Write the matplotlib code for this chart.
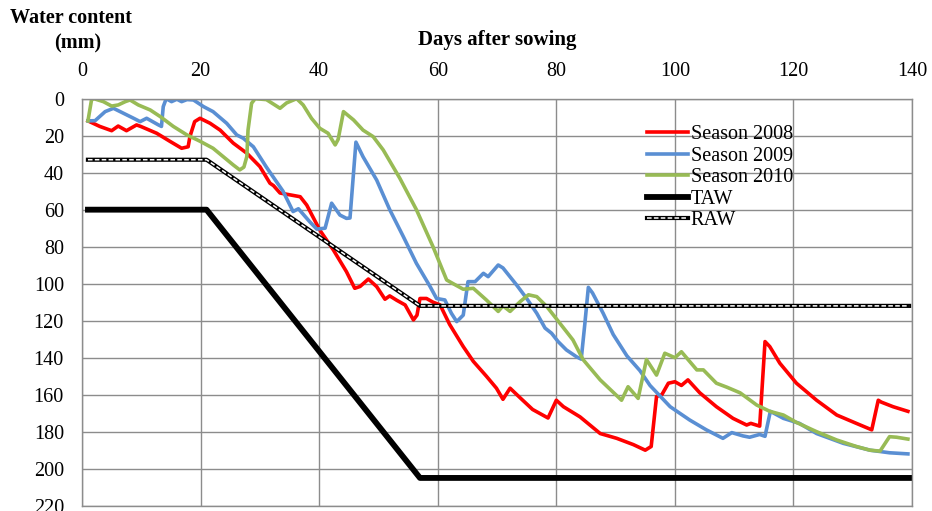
import matplotlib
matplotlib.use("Agg")
import matplotlib.pyplot as plt
from matplotlib.legend_handler import HandlerTuple

plt.rcParams["font.family"] = ["Liberation Serif", "DejaVu Serif"]

# Season 2008
days_2008 = [1, 3, 5, 6.1, 7.5, 9.2, 9.9, 12.6, 14.8, 16.8, 17.9, 18.2, 19, 19.9, 21.6, 23.3,
             25.5, 27.8, 30, 31.7, 32.3, 33.4, 35.1, 36.8, 37.9, 40.1, 42.4, 44.6, 46, 46.9,
             48.3, 49.7, 51.1, 51.9, 53.1, 54.5, 55.9, 56.5, 57, 58.1, 59.2, 60.4, 62, 64.3,
             66, 68.2, 69.9, 71, 72.2, 74, 76, 78.6, 80, 81.2, 84, 87.4, 90.2, 93, 95, 96,
             96.9, 97.8, 98.9, 100, 101.1, 102.2, 104.2, 107, 109.8, 112.1, 112.8, 114.3,
             115.2, 116, 117.7, 120.5, 123.9, 127.3, 130.6, 133.2, 134.3, 134.8, 136.8, 139.3]
wc_2008 = [12, 15, 17.3, 14.8, 17.3, 14.2, 15, 18.7, 23, 26.8, 26, 20.5, 12.4, 10.6, 13.3, 17,
           24, 29.5, 36.7, 45.7, 47, 51, 52, 53, 57.5, 71, 81.8, 93.5, 102.5, 101.5,
           97.5, 101.6, 108.4, 106.6, 109, 111.5, 119.6, 117, 108, 108, 110, 111.5, 122, 134,
           142, 150, 156.5, 162.5, 156.5, 162, 168, 172.6, 163, 166.5, 172, 181, 183.6, 187, 190, 188,
           161, 160, 153.8, 153, 155, 152, 159, 166.5, 172.8, 176.4, 175.5, 177,
           131.3, 134, 143, 153.8, 163, 171, 175.5, 179, 163, 164, 166.5, 169]

# Season 2009
days_2009 = [1, 2.2, 3.9, 5.3, 7, 8.7, 9.8, 10.9, 12.9, 13.4, 13.7, 14.2, 15.1, 16, 16.8, 17.7,
             18.8, 20.5, 22.1, 24.4, 26.1, 27.2, 28.9, 31.1, 33.9, 35.6, 36.5, 38.4, 39.6, 41,
             42.1, 43.5, 44.6, 45.2, 46.2, 47.4, 49.7, 51.9, 54.2, 56.4, 58.7, 59.8, 61.2, 62.3,
             63.2, 64.3, 65.1, 66.3, 67.7, 68.5, 70.2, 71, 73.3, 75, 76.7, 78.1, 79.2, 80.3,
             81.7, 83.4, 84.2, 84.8, 85.4, 86.1, 87.9, 89.6, 91.9, 94.1, 95.8, 99.2, 102.5,
             105.3, 108.1, 109.6, 111.5, 112.6, 114.3, 115.2, 116.1, 118.3, 121, 123.9, 128.4,
             132.9, 136.2, 139.3]
wc_2009 = [12, 11.9, 7, 5.2, 7.9, 10.6, 12.4, 10.6, 14.2, 15, 4.3, 0, 1.6, 0.3, 1.6, 0.5,
           0.7, 4.3, 7, 13.3, 19.6, 21.4, 26, 37, 50, 61, 59.5, 66.5, 70.5, 70,
           56.5, 62.9, 64.7, 64.5, 23.5, 31.4, 44, 60, 74.6, 89, 101.5, 108, 108.8, 116,
           120.5, 117, 98.9, 98.9, 94.4, 96.2, 89.9, 91.5, 100.7, 108, 116, 124, 126.8, 131.3,
           135.8, 139.5, 140.8, 122, 102, 105, 116, 127.5, 139, 147, 155, 166.5, 173.7,
           179, 183.6, 180.5, 182.3, 183, 181.5, 182.5, 169, 172.8, 175.5, 181, 186.3,
           190, 191.4, 192]

# Season 2010
days_2010 = [1, 1.6, 2, 3.6, 5, 6.1, 7.3, 8.1, 9.5, 11.5, 13.2, 15.4, 17.7, 19.9, 22.1, 23.8,
             25.5, 26.6, 27.3, 27.8, 28, 28.6, 29.2, 31.1, 33.4, 34.5, 36.2, 37.3, 38.7, 40.1,
             41.5, 42.7, 43.2, 44.1, 45.8, 47.4, 49.1, 50.8, 53.6, 56.4, 59.2, 61.5, 62.6, 64.3,
             66, 68.2, 70.2, 71, 72.2, 73.9, 75.3, 76.7, 78.4, 80.6, 82.8, 84.5, 87.4, 91,
             92.1, 93.8, 95.2, 96.9, 98.3, 100, 101.1, 103.7, 104.8, 107, 108.8, 111, 113.8,
             116, 118.3, 120.5, 123.9, 127.3, 130.6, 132.9, 134.6, 136.2, 137.4, 139.3]
wc_2010 = [12, 0.7, 0, 1.6, 4, 3.4, 1.6, 0.7, 3.4, 6.1, 9.7, 15, 19.6, 23, 26.8, 31.3,
           35.8, 38.5, 37, 31.3, 17, 2.5, 0, 0.5, 5.2, 2.3, 0, 3.4, 10.6, 16,
           18.7, 25, 22, 7, 11.5, 17, 20.5, 27.7, 43, 60, 80, 98, 100, 103,
           102.5, 108.8, 115, 112, 115, 109.7, 106, 107, 112.4, 121.4, 130.4, 141, 152, 163,
           155.7, 162, 141, 149.4, 137.6, 140, 136.8, 146.6, 146.6, 153.8, 156, 159, 165.6,
           169, 171, 175, 180, 184.5, 188, 190, 190.5, 182.7, 183, 184]

# TAW / RAW
days_taw = [1, 21, 57, 139.5]
taw = [60, 60, 205, 205]
days_raw = [1, 21, 57, 139.5]
raw = [33, 33, 112, 112]

fig = plt.figure(figsize=(9.32, 5.11), dpi=100)
ax = fig.add_axes([0.088, 0.0104, 0.8906, 0.7965])

grid_col = "#8c8c8c"
ax.set_xlim(0, 140)
ax.set_ylim(220, 0)
ax.set_xticks(range(0, 141, 20))
ax.set_yticks(range(0, 221, 20))
ax.grid(True, color=grid_col, linewidth=1)
ax.set_axisbelow(True)
for sp in ax.spines.values():
    sp.set_color(grid_col)
    sp.set_linewidth(1)
ax.xaxis.tick_top()
ax.xaxis.set_label_position("top")
ax.tick_params(axis="both", length=0, labelsize=14.5, pad=13)
ax.set_xlabel("Days after sowing", fontsize=15, fontweight="bold", labelpad=12)

l08, = ax.plot(days_2008, wc_2008, color="#ff0000", lw=2.6, label="Season 2008")
l09, = ax.plot(days_2009, wc_2009, color="#5a8fd3", lw=2.6, label="Season 2009")
l10, = ax.plot(days_2010, wc_2010, color="#98bb55", lw=2.6, label="Season 2010")
ltaw, = ax.plot(days_taw, taw, color="black", lw=4.2, label="TAW")
lraw_b, = ax.plot(days_raw, raw, color="black", lw=3)
lraw_w, = ax.plot(days_raw, raw, color="white", lw=1.1, linestyle=(0, (3, 1.5)))

ax.legend([l08, l09, l10, ltaw, (lraw_b, lraw_w)],
          ["Season 2008", "Season 2009", "Season 2010", "TAW", "RAW"],
          handler_map={tuple: HandlerTuple(ndivide=1)},
          loc="upper left", bbox_to_anchor=(0.681, 0.935), frameon=False,
          fontsize=14.5, borderpad=0, borderaxespad=0, handlelength=2.0,
          handletextpad=0.15, labelspacing=0.12)

fig.text(0.0107, 0.965, "Water content", fontsize=14.5, fontweight="bold", va="center")
fig.text(0.083, 0.915, "(mm)", fontsize=14.5, fontweight="bold", va="center", ha="center")

fig.savefig("out.png", dpi=100)
